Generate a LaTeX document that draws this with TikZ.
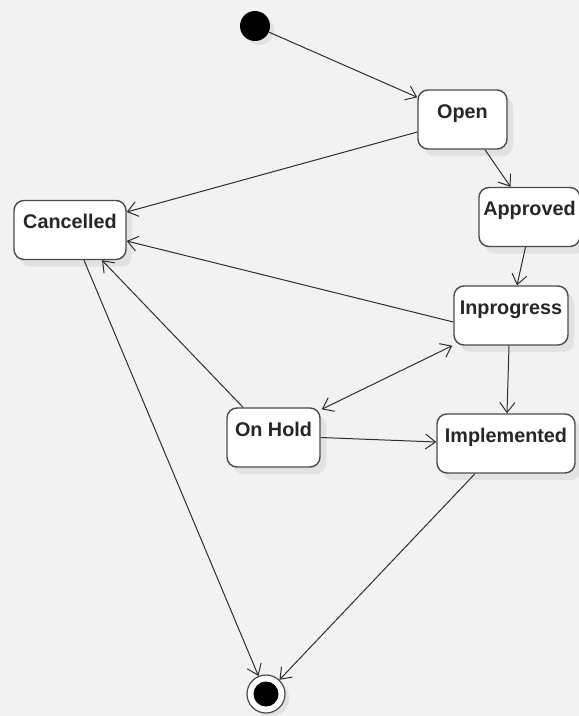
\documentclass[tikz,border=0pt]{standalone}
\usepackage{fontspec}
\setmainfont{Liberation Sans}
\usetikzlibrary{arrows.meta,shadows}
\definecolor{bgc}{HTML}{F2F2F2}
\definecolor{linec}{HTML}{2E2E2E}
\definecolor{edgec}{HTML}{4A4A4A}
\definecolor{shadc}{HTML}{E2E2E2}
\definecolor{txtc}{HTML}{262626}
\begin{document}
\begin{tikzpicture}[x=1pt,y=-1pt,
  state/.style={draw=edgec, line width=1.4pt, fill=white, rounded corners=10pt,
    inner xsep=0pt, inner ysep=0pt, text height=28pt, text depth=31pt,
    font=\fontsize{19.8}{22}\selectfont\bfseries, text=txtc,
    drop shadow={shadow xshift=6pt, shadow yshift=-7pt, fill=shadc, opacity=1}},
  initst/.style={circle, fill=black, inner sep=0pt, minimum size=30pt,
    drop shadow={shadow xshift=4pt, shadow yshift=-4pt, fill=shadc, opacity=1}},
  finalst/.style={circle, draw=edgec, line width=1.2pt, fill=white, inner sep=0pt, minimum size=38pt,
    drop shadow={shadow xshift=4pt, shadow yshift=-4pt, fill=shadc, opacity=1}},
  conn/.style={draw=linec, line width=1pt, -{Straight Barb[length=10pt,width=15pt]}},
  bconn/.style={draw=linec, line width=1pt, {Straight Barb[length=10pt,width=15pt]}-{Straight Barb[length=10pt,width=15pt]}}
]
\useasboundingbox (0,0) rectangle (579,716);
\clip (0,0) rectangle (579,716);
\fill[bgc] (0,0) rectangle (579,716);

\node[initst] (init) at (255,26) {};
\node[state, minimum width=89pt] (open) at (462.5,119.5) {Open};
\node[state, minimum width=112pt] (cancelled) at (70,230) {Cancelled};
\node[state, minimum width=101pt] (approved) at (529.5,217) {Approved};
\node[state, minimum width=114pt] (inprogress) at (511,315.5) {Inprogress};
\node[state, minimum width=93pt] (onhold) at (273.5,437.5) {On Hold};
\node[state, minimum width=138pt] (implemented) at (506,443.5) {Implemented};
\node[finalst] (final) at (266,694) {};
\fill[black] (final.center) circle (12.5);

\draw[conn] (init) -- ([yshift=-8pt]open.north west);
\draw[conn] ([yshift=-12.5pt]open.west) -- ([yshift=18pt]cancelled.east);
\draw[conn] ([xshift=22.5pt]open.south) -- ([xshift=-19pt]approved.north);
\draw[conn] ([xshift=-4pt]approved.south) -- ([xshift=6pt]inprogress.north);
\draw[conn] ([yshift=-6.5pt]inprogress.west) -- ([yshift=-11pt]cancelled.east);
\draw[conn] ([xshift=-2pt]inprogress.south) -- ([xshift=1pt]implemented.north);
\draw[conn] ([xshift=-30.5pt]onhold.north) -- ([xshift=32pt]cancelled.south);
\draw[bconn] ([shift={(1pt,-2pt)}]onhold.north east) -- ([shift={(-1pt,0pt)}]inprogress.south west);
\draw[conn] (onhold.east) -- ([yshift=1.5pt]implemented.west);
\draw[conn] ([xshift=14pt]cancelled.south) -- (final);
\draw[conn] ([xshift=-31pt]implemented.south) -- (final);
\end{tikzpicture}
\end{document}
